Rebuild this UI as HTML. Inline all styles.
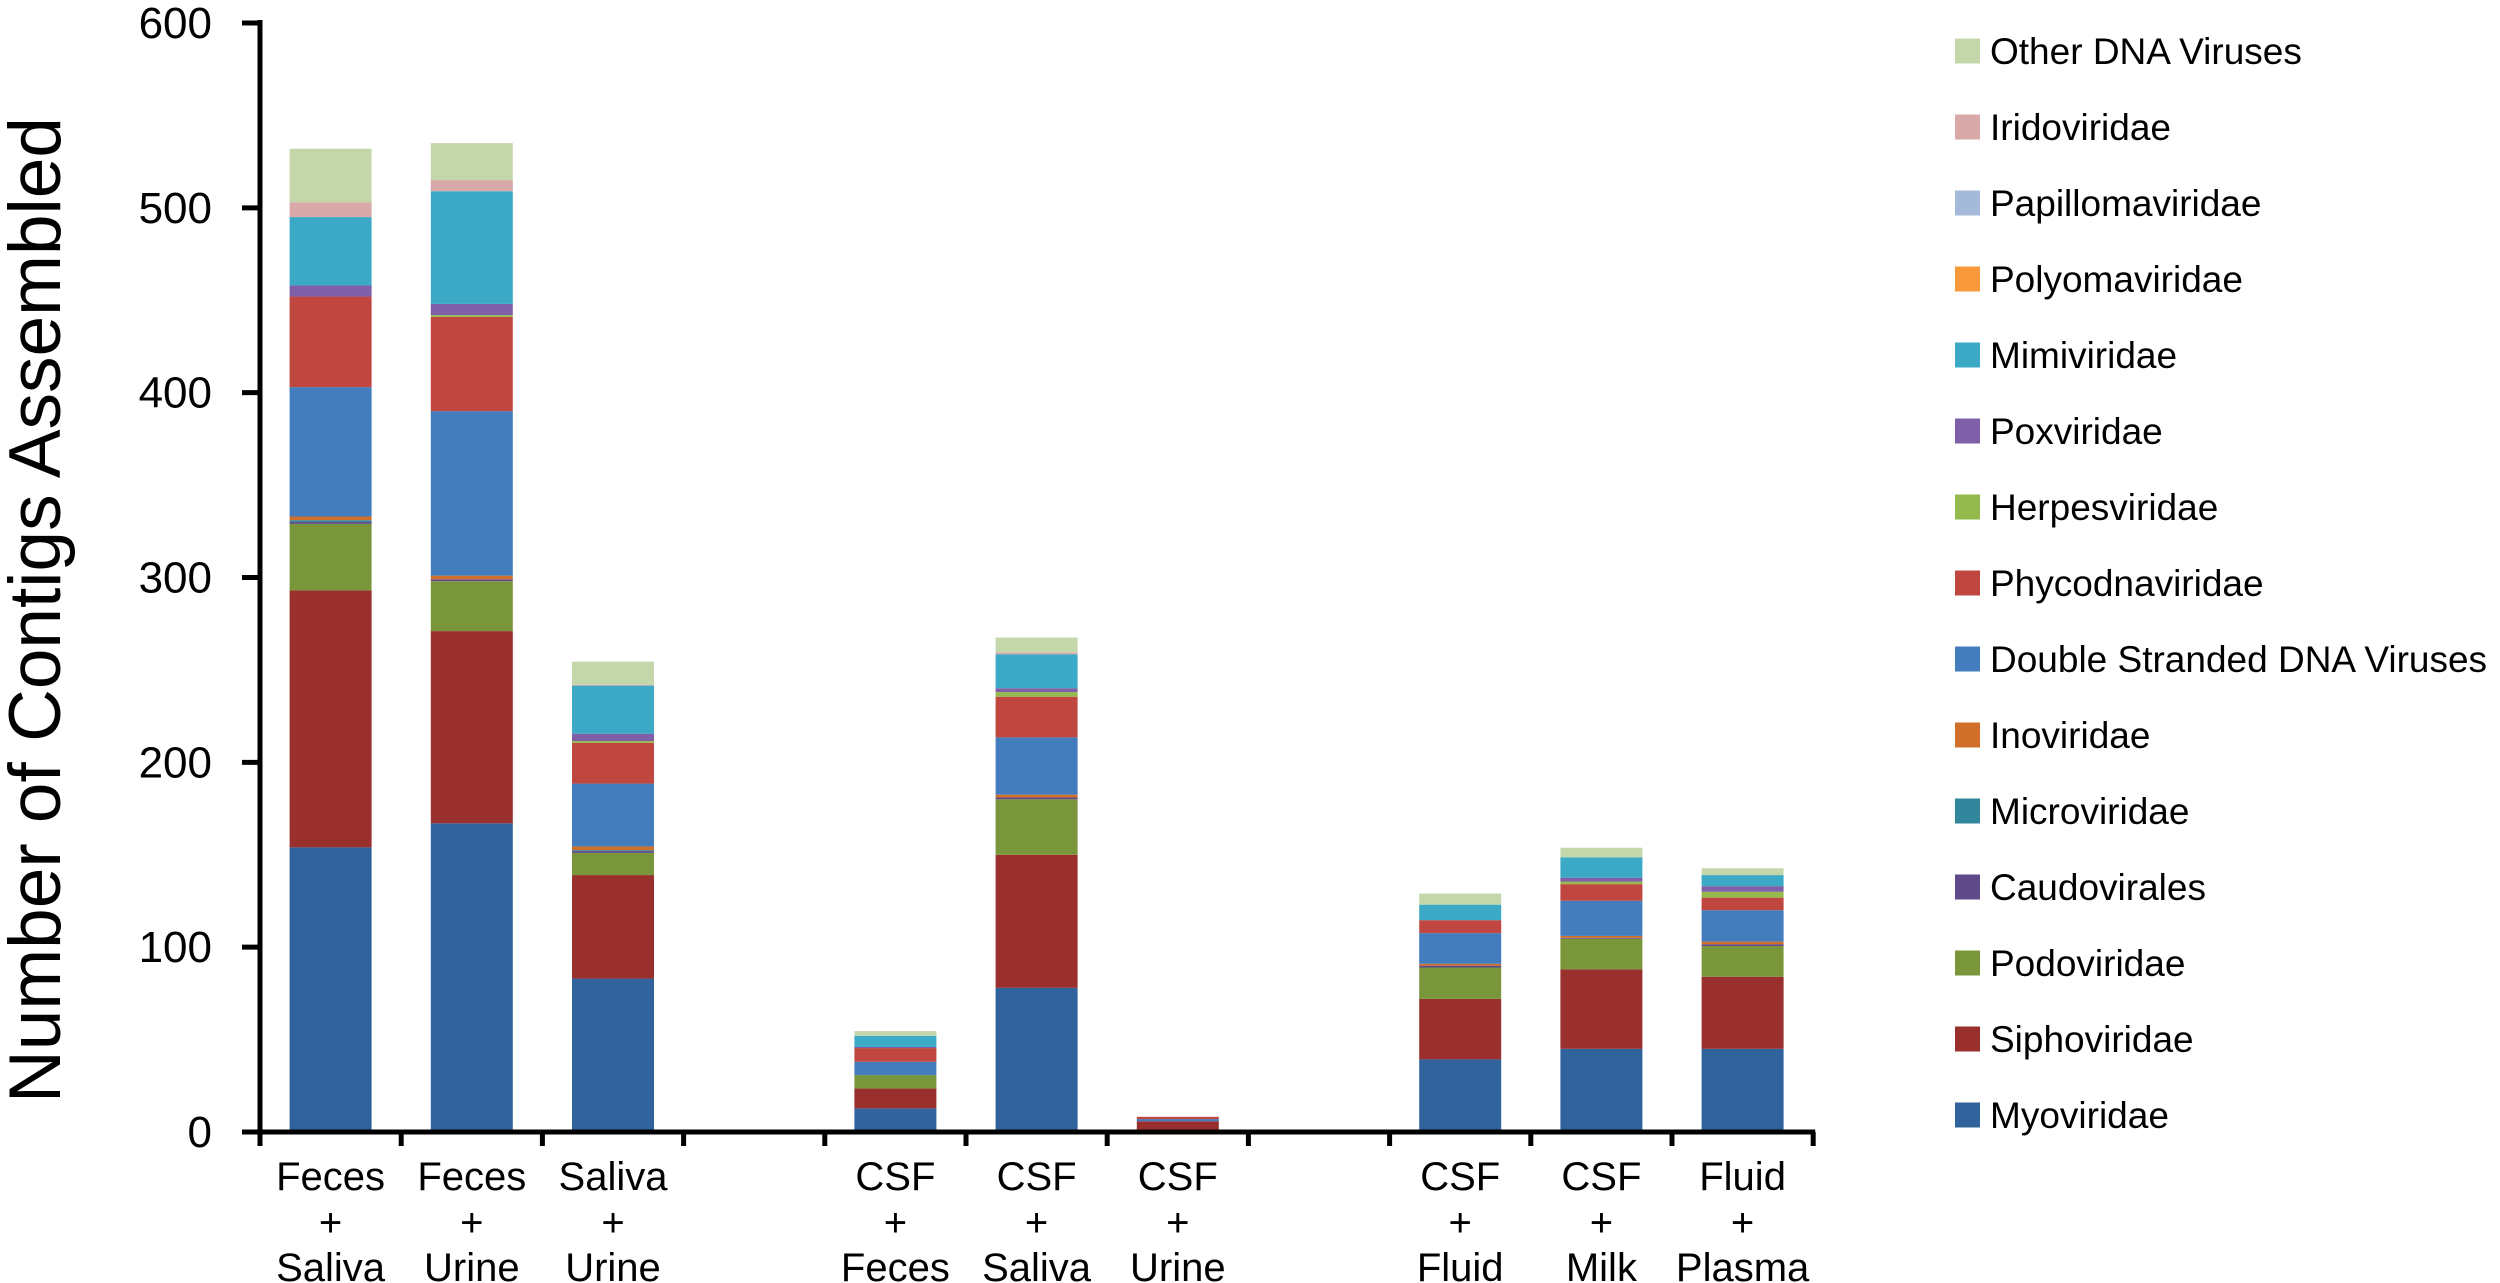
<!DOCTYPE html>
<html><head><meta charset="utf-8"><style>
html,body{margin:0;padding:0;background:#fff;}
svg{display:block;font-family:"Liberation Sans",sans-serif;}
</style></head><body>
<svg id="chart" width="2500" height="1283" viewBox="0 0 2500 1283"></svg>
<script>
const categories = [["Feces","+","Saliva"],["Feces","+","Urine"],["Saliva","+","Urine"],null,["CSF","+","Feces"],["CSF","+","Saliva"],["CSF","+","Urine"],null,["CSF","+","Fluid"],["CSF","+","Milk"],["Fluid","+","Plasma"]];
const seriesNames = ["Myoviridae","Siphoviridae","Podoviridae","Caudovirales","Microviridae","Inoviridae","Double Stranded DNA Viruses","Phycodnaviridae","Herpesviridae","Poxviridae","Mimiviridae","Polyomaviridae","Papillomaviridae","Iridoviridae","Other DNA Viruses"];
const seriesColors = ["#30639b","#9a302e","#7a963b","#5e4a88","#31869b","#d06f2a","#437dbd","#c0473f","#94b94c","#7f5fa8","#3caac6","#f89a3c","#a5b9da","#d9a8a8","#c4d7ab"];
const myo    = [154,167,83,null,12.8,78,0.3,null,39.3,45,45];
const sipho  = [139,104,56,null,10.7,72,5.5,null,32.7,43,39];
const podo   = [36,27,12,null,7.3,30,0,null,17,16.6,16.6];
const caudo  = [1,1,1,null,0,1,0,null,1,0.5,1];
const micro  = [1,0,0.5,null,0,0,0,null,0,0,0];
const ino    = [2,2,2,null,0,1.5,0,null,1,1,1.4];
const dsdna  = [70,89,34,null,7.2,31,1.2,null,16.6,19,17];
const phyco  = [49,51,22,null,7.4,22,1.2,null,7,9,6.8];
const herpes = [0,1,1,null,0,2.5,0,null,0,1.4,3.2];
const pox    = [6,6,4,null,0.6,2.1,0,null,0,2.1,3];
const mimi   = [37,61,26,null,6,18.4,0,null,8.4,11,6];
const polyo  = [0,0,0,null,0,0,0,null,0,0,0];
const papill = [0,0,0,null,0,0,0,null,0,0,0];
const irido  = [8,6,0.5,null,0,1,0,null,0,0,0];
const other  = [29,20,12.5,null,2.6,8,0,null,6,5.2,3.7];
const seriesValues = [myo,sipho,podo,caudo,micro,ino,dsdna,phyco,herpes,pox,mimi,polyo,papill,irido,other];
const yTicks = [0,100,200,300,400,500,600];

const NS="http://www.w3.org/2000/svg";
const svg=document.getElementById('chart');
const x0=260, slot=141.2, barW=82, y0=1132, yTop=23, yMax=600;
function yScale(v){return y0-(v/yMax)*(y0-yTop);}
function xCenter(i){return x0+slot*(i+0.5);}
function mk(tag,attrs){const e=document.createElementNS(NS,tag);for(const k in attrs)e.setAttribute(k,attrs[k]);svg.appendChild(e);return e;}

categories.forEach((c,i)=>{
  if(!c) return;
  let acc=0;
  seriesValues.forEach((arr,s)=>{
    const v=arr[i]||0; if(v<=0) return;
    const r=mk('rect',{x:xCenter(i)-barW/2,y:yScale(acc+v),width:barW,height:yScale(acc)-yScale(acc+v),fill:seriesColors[s]});
    
    
    acc+=v;
  });
});

const ya=mk('line',{x1:x0,y1:yTop-3,x2:x0,y2:y0+2,stroke:'#000','stroke-width':5});


const xEnd=x0+slot*categories.length;
const xa=mk('line',{x1:x0-18,y1:y0,x2:xEnd+2,y2:y0,stroke:'#000','stroke-width':5});


yTicks.forEach(t=>{
  const y=yScale(t);
  const tk=mk('line',{x1:x0-18,y1:y,x2:x0,y2:y,stroke:'#000','stroke-width':5});
  
  
  const lb=mk('text',{x:212,y:y+15,'text-anchor':'end','font-size':44});
  lb.textContent=t;
  
  
});
for(let i=0;i<=categories.length;i++){
  const x=x0+slot*i;
  const tk=mk('line',{x1:x,y1:y0,x2:x,y2:y0+14,stroke:'#000','stroke-width':5});
  
  
}
const lineY=[1190,1236,1281];
categories.forEach((c,i)=>{
  if(!c) return;
  c.forEach((line,j)=>{
    const t=mk('text',{x:xCenter(i),y:lineY[j],'text-anchor':'middle','font-size':40});
    t.textContent=line;
    
    
  });
});
const yt=mk('text',{x:0,y:0,'text-anchor':'middle','font-size':73,transform:'translate(60,610) rotate(-90)'});
yt.textContent='Number of Contigs Assembled';



for(let k=0;k<seriesNames.length;k++){
  const s=seriesNames.length-1-k;
  const cy=51+k*76;
  const r=mk('rect',{x:1955,y:cy-12.5,width:25,height:25,fill:seriesColors[s]});
  
  
  const t=mk('text',{x:1990,y:cy+13,'font-size':37});
  t.textContent=seriesNames[s];
  
  
}
</script>
</body></html>
